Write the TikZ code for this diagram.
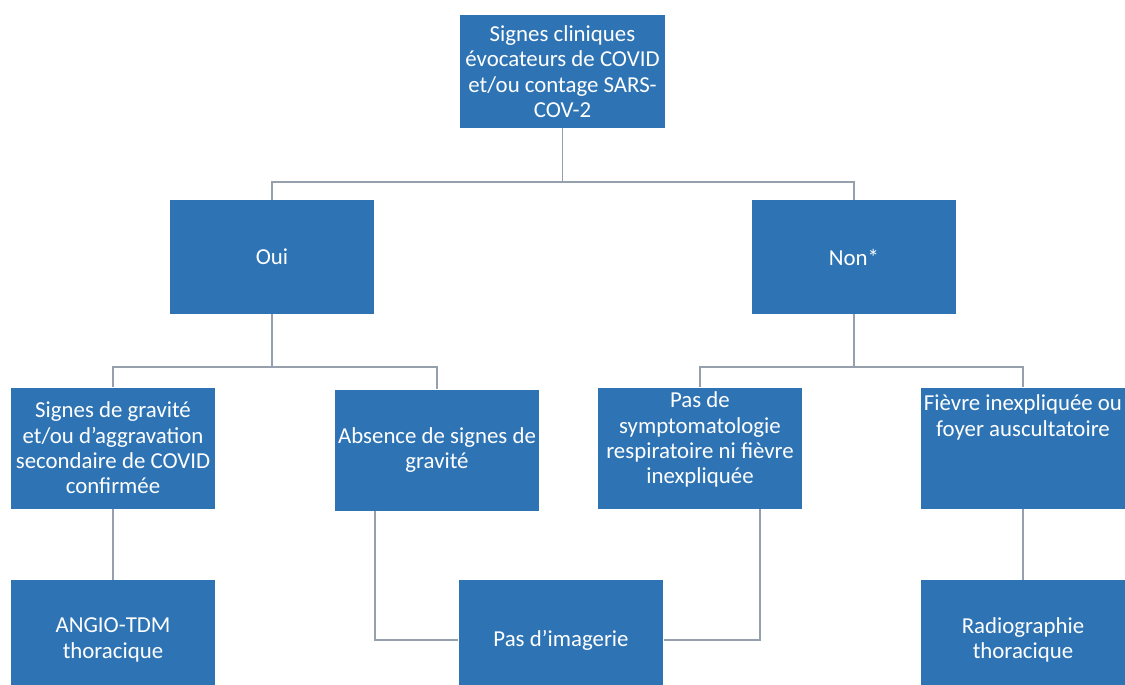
\documentclass[tikz,border=0pt]{standalone}
\usepackage{fontspec}
\setmainfont{Carlito}
\usepackage{tikz}
\usetikzlibrary{calc}

\definecolor{bleu}{RGB}{46,116,181}
\definecolor{gris}{RGB}{150,160,172}

\begin{document}
\begin{tikzpicture}[x=0.02cm,y=-0.02cm,
    boite/.style={fill=bleu,text=white,align=center,inner sep=0,
      minimum width=4.1cm,minimum height=2.28cm,
      font=\fontsize{13}{14.4}\selectfont},
    lien/.style={draw=gris,line width=1pt}]

    \useasboundingbox (0,0) rectangle (1125,684);
    \clip (0,0) rectangle (1125,684);

    % Question de depart
    \node[boite,minimum height=2.26cm] (signes) at (562.5,71.5) {Signes cliniques\\évocateurs de COVID\\et/ou contage SARS-\\COV-2};

    % Oui / Non
    \node[boite] (oui) at (272,257) {Oui};
    \node[boite] (non) at (854,257) {Non*};

    % Troisieme rang
    \node[boite,minimum height=2.42cm] (gravite) at (113,448) {Signes de gravité\\et/ou d’aggravation\\secondaire de COVID\\confirmée};
    \node[boite,minimum height=2.42cm] (absence) at (437,450) {Absence de signes de\\gravité};
    \node[boite,minimum height=2.42cm,text depth=0.4cm] (sympto) at (700,448) {Pas de\\symptomatologie\\respiratoire ni fièvre\\inexpliquée};
    \node[boite,minimum height=2.42cm,text depth=1.3cm] (fievre) at (1023,448) {Fièvre inexpliquée ou\\foyer auscultatoire};

    % Imagerie
    \node[boite,minimum height=2.4cm] (angio) at (113,640) {ANGIO-TDM\\thoracique};
    \node[boite,minimum height=2.4cm] (imagerie) at (561,640) {Pas d’imagerie};
    \node[boite,minimum height=2.4cm] (radio) at (1023,640) {Radiographie\\thoracique};

    % Liens
    \draw[lien] (signes.south) -- ++(0,54) -| (oui.north);
    \draw[lien] (signes.south) -- ++(0,54) -| (non.north);
    \draw[lien] (oui.south) -- ++(0,53) -| (gravite.north);
    \draw[lien] (oui.south) -- ++(0,53) -| (absence.north);
    \draw[lien] (non.south) -- ++(0,53) -| (sympto.north);
    \draw[lien] (non.south) -- ++(0,53) -| (fievre.north);
    \draw[lien] (gravite.south) -- (angio.north);
    \draw[lien] ($(absence.south)+(-62,0)$) |- (imagerie.west);
    \draw[lien] ($(sympto.south)+(60,0)$) |- (imagerie.east);
    \draw[lien] (fievre.south) -- (radio.north);

\end{tikzpicture}
\end{document}
